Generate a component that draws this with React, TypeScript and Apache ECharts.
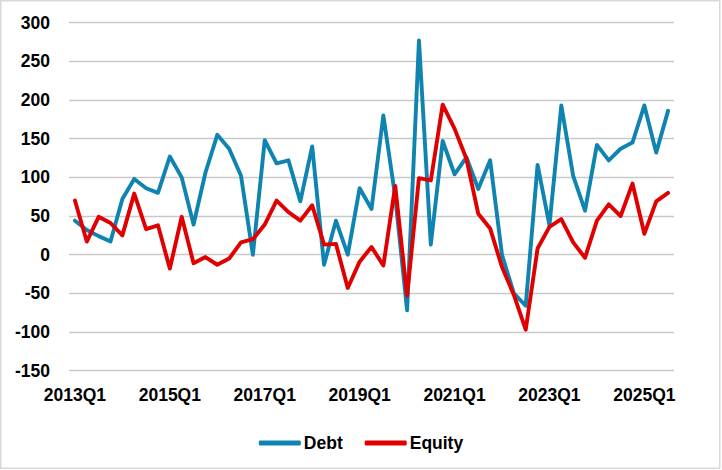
import React, { useEffect, useRef } from "react";
import * as echarts from "echarts";

const quarters: string[] = [];
for (let y = 2013; y <= 2025; y++) {
  for (let q = 1; q <= 4; q++) {
    if (y === 2025 && q > 3) break;
    quarters.push(`${y}Q${q}`);
  }
}

const debt = [
  44, 32, 24, 17, 72, 98, 86, 80, 127, 100,
  39, 106, 155, 137, 102, 0, 148, 118, 122, 69,
  140, -13, 44, 0, 86, 59, 180, 75, -72, 277,
  13, 147, 104, 126, 85, 122, 0, -50, -66, 116,
  38, 193, 102, 57, 142, 122, 137, 145, 193, 132, 186,
];

const equity = [
  70, 17, 49, 41, 25, 79, 33, 38, -18, 49,
  -11, -3, -13, -5, 16, 20, 39, 70, 55, 44,
  64, 13, 14, -43, -9, 10, -14, 89, -53, 99,
  96, 194, 163, 124, 53, 34, -16, -52, -97, 8,
  36, 46, 16, -4, 44, 65, 50, 92, 27, 69, 80,
];

const yMin = -150;
const yMax = 300;
const yStep = 50;

const FONT = "'Liberation Sans', Arial, sans-serif";

export default function App() {
  const ref = useRef<HTMLDivElement>(null);
  useEffect(() => {
    document.body.style.margin = "0";
    if (!ref.current) return;
    const chart = echarts.init(ref.current, null, { renderer: "svg" });
    chart.setOption({
      animation: false,
      backgroundColor: "#ffffff",
      textStyle: { fontFamily: FONT },
      grid: { left: 69, right: 48, top: 22.7, bottom: 99.3, containLabel: false },
      xAxis: {
        type: "category",
        data: quarters,
        boundaryGap: true,
        axisLine: { show: false },
        axisTick: { show: false },
        axisLabel: {
          interval: 7,
          margin: 15,
          color: "#000",
          fontWeight: "bold",
          fontSize: 17.5,
          fontFamily: FONT,
        },
        splitLine: { show: false },
      },
      yAxis: {
        type: "value",
        min: yMin,
        max: yMax,
        interval: yStep,
        axisLine: { show: false },
        axisTick: { show: false },
        axisLabel: {
          margin: 19,
          color: "#000",
          fontWeight: "bold",
          fontSize: 17.5,
          fontFamily: FONT,
        },
        splitLine: { show: true, lineStyle: { color: "#c9c9c9", width: 1.3 } },
      },
      legend: {
        top: 429,
        left: "center",
        itemWidth: 42,
        itemHeight: 5,
        itemGap: 22,
        icon: "roundRect",
        textStyle: { color: "#000", fontWeight: "bold", fontSize: 17.5, fontFamily: FONT, padding: [0, 0, 0, -2] },
        data: ["Debt", "Equity"],
      },
      series: [
        {
          name: "Debt",
          type: "line",
          data: debt,
          showSymbol: false,
          symbol: "none",
          lineStyle: { color: "#0f84b1", width: 3.9, join: "round", cap: "round" },
          itemStyle: { color: "#0f84b1" },
          z: 2,
        },
        {
          name: "Equity",
          type: "line",
          data: equity,
          showSymbol: false,
          symbol: "none",
          lineStyle: { color: "#e00000", width: 3.9, join: "round", cap: "round" },
          itemStyle: { color: "#e00000" },
          z: 3,
        },
      ],
      graphic: [
        {
          type: "rect",
          shape: { x: 0.75, y: 0.75, width: 719, height: 467.5 },
          style: { fill: "none", stroke: "#d9d9d9", lineWidth: 1.5 },
          silent: true,
        },
      ],
    });
    return () => chart.dispose();
  }, []);
  return <div ref={ref} style={{ width: 722, height: 470 }} />;
}
